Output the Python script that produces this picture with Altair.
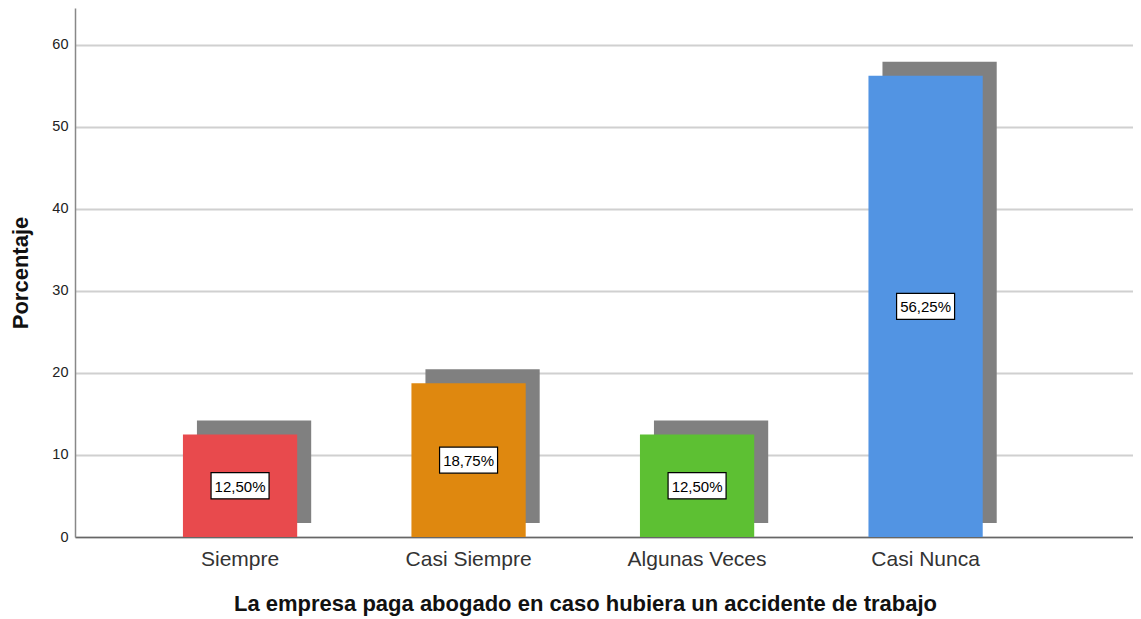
import altair as alt
import pandas as pd

categories = ["Siempre", "Casi Siempre", "Algunas Veces", "Casi Nunca"]
values = [12.5, 18.75, 12.5, 56.25]
labels = ["12,50%", "18,75%", "12,50%", "56,25%"]
colors = ["#E84A4D", "#DF880F", "#5DC033", "#5294E3"]

df = pd.DataFrame({"cat": categories, "val": values, "lab": labels})

FONT = "Liberation Sans"

x_scale = alt.Scale(domain=categories, paddingInner=0.5, paddingOuter=0.565, align=0.418)
y_scale = alt.Scale(domain=[0, 64.5], nice=False, zero=True)

x_enc = alt.X(
    "cat:N",
    scale=x_scale,
    sort=categories,
    title="La empresa paga abogado en caso hubiera un accidente de trabajo",
    axis=alt.Axis(
        labelAngle=0,
        labelFont=FONT,
        labelFontSize=21,
        labelColor="#333333",
        labelPadding=11,
        ticks=False,
        grid=False,
        domainColor="#666666",
        domainWidth=1.5,
        titleFont=FONT,
        titleFontSize=22,
        titleFontWeight="bold",
        titleColor="#111111",
        titlePadding=24,
        titleX=510,
        titleAlign="center",
    ),
)

y_enc = alt.Y(
    "val:Q",
    scale=y_scale,
    title="Porcentaje",
    axis=alt.Axis(
        values=[0, 10, 20, 30, 40, 50, 60],
        labelFont=FONT,
        labelFontSize=14.5,
        labelColor="#222222",
        labelPadding=7,
        ticks=False,
        domainColor="#888888",
        domainWidth=1.5,
        gridColor="#D0D0D0",
        gridWidth=2,
        titleFont=FONT,
        titleFontSize=22,
        titleFontWeight="bold",
        titleColor="#111111",
        titlePadding=19,
    ),
)

base = alt.Chart(df)

shadow = base.mark_bar(color="#808080", xOffset=14, yOffset=-14, y2Offset=-14).encode(
    x=x_enc, y=y_enc
)

bars = base.mark_bar().encode(
    x=x_enc,
    y=y_enc,
    color=alt.Color("cat:N", scale=alt.Scale(domain=categories, range=colors), legend=None),
)

mid = base.transform_calculate(mid="datum.val / 2")

box = mid.mark_point(
    shape="M-1,-0.45L1,-0.45L1,0.45L-1,0.45Z",
    size=3364,
    filled=True,
    fill="white",
    stroke="black",
    strokeWidth=1.2,
    opacity=1,
).encode(
    x=alt.X("cat:N", scale=x_scale, sort=categories),
    y=alt.Y("mid:Q", scale=y_scale),
)

txt = mid.mark_text(font=FONT, fontSize=15, color="black", dy=1).encode(
    x=alt.X("cat:N", scale=x_scale, sort=categories),
    y=alt.Y("mid:Q", scale=y_scale),
    text="lab:N",
)

chart = (
    alt.layer(shadow, bars, box, txt)
    .properties(
        width=1058,
        height=529,
        autosize=alt.AutoSizeParams(type="none"),
        padding={"left": 67, "top": 0, "right": 0, "bottom": 80},
        view=alt.ViewBackground(stroke="transparent"),
    )
    .configure_view(stroke="transparent")
    .configure(background="white")
)

chart.save("out.html", embed_options={"renderer": "svg", "actions": False})
